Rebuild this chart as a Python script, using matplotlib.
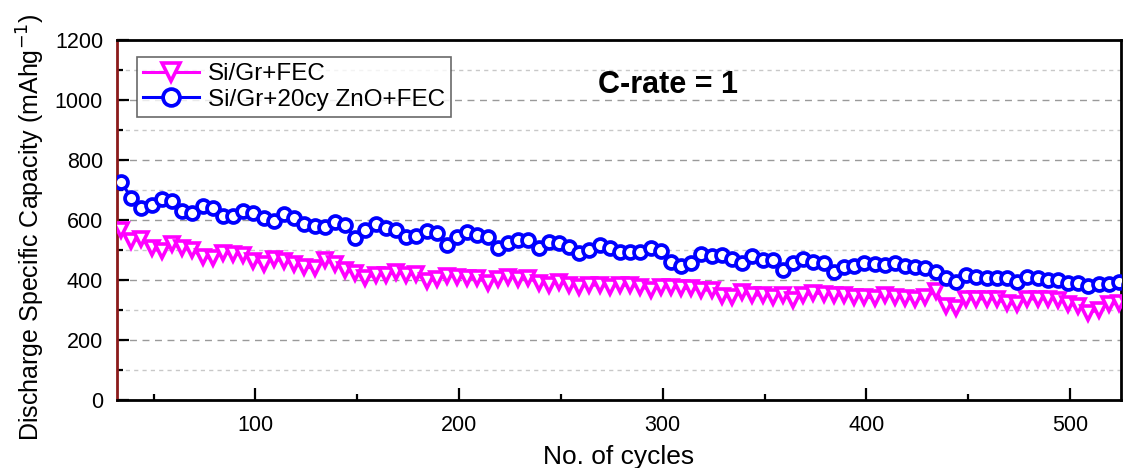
import numpy as np
import matplotlib
matplotlib.use("Agg")
import matplotlib.pyplot as plt
from matplotlib.ticker import MultipleLocator

plt.rcParams['font.family'] = ['Liberation Sans', 'DejaVu Sans']

# ---- data ----
cycles = list(range(34, 530, 5))

cap_fec = [565, 530, 536, 505, 495, 519, 508, 500, 478, 472,
           491, 486, 484, 465, 455, 469, 463, 455, 443, 440,
           468, 452, 433, 422, 408, 417, 417, 426, 417, 420,
           396, 402, 415, 411, 406, 406, 391, 404, 410, 405,
           408, 389, 385, 394, 383, 378, 383, 383, 378, 383,
           382, 378, 368, 378, 377, 372, 372, 367, 366, 348,
           344, 360, 350, 350, 345, 350, 332, 350, 356, 355,
           350, 350, 345, 344, 339, 350, 344, 340, 336, 342,
           364, 312, 308, 338, 336, 338, 336, 322, 320, 338,
           336, 338, 335, 320, 313, 291, 300, 320, 322, 312]

cap_zno = [728, 673, 640, 650, 670, 663, 630, 623, 647, 640,
           613, 613, 630, 623, 607, 597, 620, 607, 587, 580,
           578, 594, 583, 539, 567, 586, 574, 567, 542, 547,
           564, 558, 517, 542, 561, 550, 544, 508, 522, 533,
           533, 508, 528, 522, 511, 489, 500, 517, 508, 492,
           492, 492, 506, 498, 461, 447, 456, 487, 480, 483,
           469, 458, 480, 467, 467, 433, 458, 469, 461, 456,
           428, 444, 447, 456, 452, 450, 458, 447, 444, 439,
           428, 406, 394, 417, 411, 408, 408, 408, 394, 411,
           406, 400, 399, 389, 389, 380, 386, 386, 392, 383]

label_fec = "Si/Gr+FEC"
label_zno = "Si/Gr+20cy ZnO+FEC"
x_label = "No. of cycles"
y_label = "Discharge Specific Capacity (mAhg$^{-1}$)"
annotation = "C-rate = 1"

# ---- figure ----
fig = plt.figure(figsize=(11.23, 4.68), dpi=100)
ax = fig.add_axes([117/1123, 1 - 400/468, (1121 - 117)/1123, 360/468])

ax.plot(cycles, cap_fec, color='#FF00FF', lw=2.2, marker='v', ms=10, mew=2.6,
        mfc='white', mec='#FF00FF', label=label_fec, zorder=3)
ax.plot(cycles, cap_zno, color='#0000FF', lw=2.2, marker='o', ms=9.3, mew=2.7,
        mfc='white', mec='#0000FF', label=label_zno, zorder=4)

ax.set_xlim(32, 525)
ax.set_ylim(0, 1200)

ax.xaxis.set_major_locator(MultipleLocator(100))
ax.xaxis.set_minor_locator(MultipleLocator(50))
ax.yaxis.set_major_locator(MultipleLocator(200))
ax.yaxis.set_minor_locator(MultipleLocator(100))

ax.grid(axis='y', which='major', color='#9a9a9a', ls=(0, (5, 4)), lw=1.0, zorder=0)
ax.grid(axis='y', which='minor', color='#c8c8c8', ls=(0, (3, 3)), lw=1.0, zorder=0)

ax.tick_params(axis='both', which='major', direction='in', length=8.5, width=1.6,
               labelsize=15.5, pad=10)
ax.tick_params(axis='both', which='minor', direction='in', length=4.5, width=1.6)
ax.tick_params(axis='x', which='major', pad=11)

for side in ['top', 'bottom', 'right']:
    ax.spines[side].set_linewidth(2)
    ax.spines[side].set_color('black')
ax.spines['left'].set_linewidth(2)
ax.spines['left'].set_color('#8B1A1A')

ax.set_xlabel(x_label, fontsize=19, labelpad=6)
ax.set_ylabel(y_label, fontsize=18)
ax.yaxis.set_label_coords(-0.070, 0.48)

ax.text(0.549, 0.875, annotation, transform=ax.transAxes, fontsize=22,
        fontweight='bold', ha='center', va='center')

leg = ax.legend(loc='upper left', bbox_to_anchor=(0.02, 0.953), fontsize=17.5,
                frameon=True, fancybox=False, edgecolor='#444444',
                handlelength=2.3, handletextpad=0.35, borderpad=0.25,
                labelspacing=0.15, markerscale=1.3, borderaxespad=0.0)
leg.get_frame().set_linewidth(1.2)

fig.savefig("out.png", dpi=100)
